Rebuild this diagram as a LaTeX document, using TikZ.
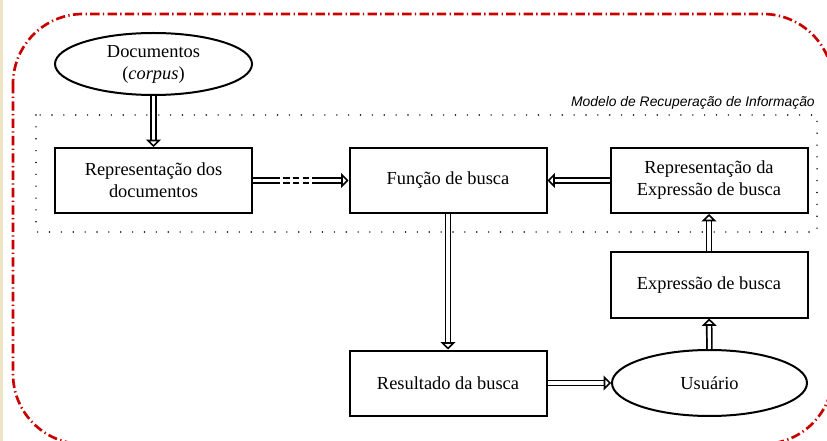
\documentclass[tikz,border=0pt]{standalone}
\usepackage{fontspec}
\setmainfont{Liberation Serif}
\newfontfamily\modelfont{Liberation Sans}
\usepackage{xcolor}
\usetikzlibrary{arrows.meta,shapes.geometric}
\definecolor{redline}{RGB}{200,0,0}
\definecolor{paper}{RGB}{240,228,198}

\begin{document}
\begin{tikzpicture}[x=0.75pt,y=-0.75pt,
  box/.style={draw,line width=1.5pt,minimum width=147.75pt,minimum height=48.75pt,
              align=center,inner sep=2pt,font=\fontsize{13.8}{16.5}\selectfont},
  oval/.style={box,ellipse},
  flow/.style={double,double distance=2.3pt,line width=1.3pt,
               -{Triangle[fill=white,length=5.5pt,width=11pt,line width=1.2pt]}}]
  \useasboundingbox (0,0) rectangle (827,441);
  \fill[paper] (0,0) rectangle (3,441);
  % outer frame
  \begin{scope}
    \clip (3,0) rectangle (827,441);
    \draw[redline,line width=2pt,rounded corners=52.5pt,
          dash pattern=on 7pt off 2.5pt on 1pt off 2.5pt] (13,14) rectangle (833,444);
  \end{scope}
  % model frame
  \draw[line width=1.2pt,line cap=round,dash pattern=on 0pt off 8.9pt] (36,115) rectangle (817,232);
  \node[anchor=base east,inner sep=0pt,font=\modelfont\itshape\fontsize{10.4}{12}\selectfont]
    (modelo) at (815,107) {Modelo de Recuperação de Informação};

  \node[oval,minimum width=147.75pt,minimum height=46.5pt] (docs) at (153.5,64) {Documentos\\(\textit{corpus})};
  \node[box] (repdoc) at (153.5,180.5) {Representação dos\\documentos};
  \node[box] (funcao) at (448,180.5) {Função de busca};
  \node[box] (repexp) at (709,180.5) {Representação da\\Expressão de busca};
  \node[box] (expr) at (709,285) {Expressão de busca};
  \node[box] (result) at (448,383) {Resultado da busca};
  \node[oval,minimum width=146.25pt,minimum height=49.5pt] (usuario) at (709.5,383) {Usuário};

  \draw[flow,dash pattern=on 20pt off 2.4pt on 5pt off 2.4pt on 5pt off 2.4pt on 5pt off 2.4pt on 60pt]
    (repdoc) -- (funcao);
  \draw[flow] (docs) -- (repdoc);
  \draw[flow] (repexp) -- (funcao);
  \draw[flow] (funcao) -- (result);
  \draw[flow] (result) -- (usuario);
  \draw[flow] (usuario) -- (expr);
  \draw[flow] (expr) -- (repexp);
\end{tikzpicture}
\end{document}
